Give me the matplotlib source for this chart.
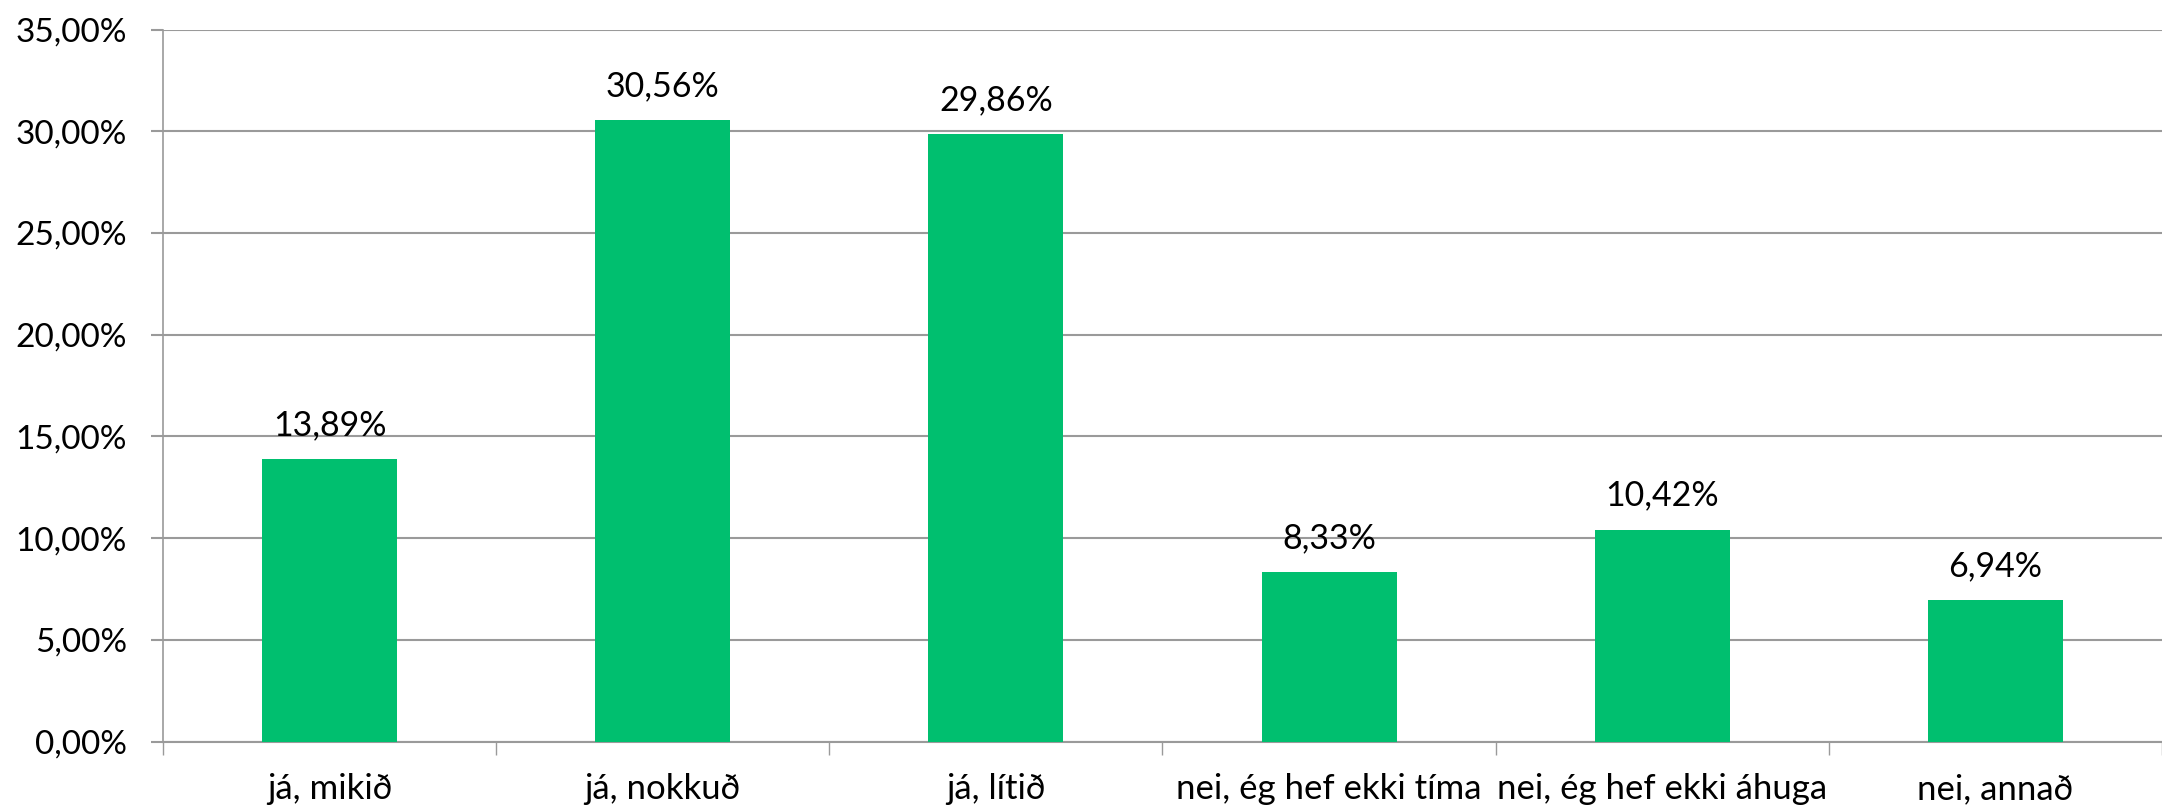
import matplotlib
matplotlib.use("Agg")
import matplotlib.pyplot as plt
from matplotlib.ticker import FuncFormatter, MultipleLocator
import numpy as np

GREEN = "#00BF6F"
GRID = "#9a9a9a"

categories = ["já, mikið", "já, nokkuð", "já, lítið",
              "nei, ég hef ekki tíma", "nei, ég hef ekki áhuga", "nei, annað"]
values = [13.89, 30.56, 29.86, 8.33, 10.42, 6.94]

plt.rcParams.update({
    "font.family": ["Lato", "DejaVu Sans"],
    "font.size": 24,
})


def pct(v):
    return f"{v:.2f}".replace(".", ",") + "%"


fig = plt.figure(figsize=(21.62, 8.08), dpi=100)
ax = fig.add_axes([163 / 2162, 1 - 741.5 / 808, 1 - 163 / 2162, (741.5 - 29.5) / 808])

x = np.arange(len(categories))
bars = ax.bar(x, values, width=0.405, color=GREEN, zorder=3)
for b, v in zip(bars, values):
    ax.annotate(pct(v), (b.get_x() + b.get_width() / 2, v), xytext=(0, 13),
                textcoords="offset points", ha="center", va="bottom",
                fontsize=24.5, color="black")

ax.set_xlim(-0.5, len(categories) - 0.5)
ax.set_ylim(0, 35)
ax.yaxis.set_major_locator(MultipleLocator(5))
ax.yaxis.set_major_formatter(FuncFormatter(lambda v, _: pct(v)))
ax.grid(axis="y", color=GRID, lw=1.5, zorder=0)

ax.set_xticks(x)
ax.set_xticklabels(categories, fontsize=25)
ax.set_xticks(np.arange(len(categories) + 1) - 0.5, minor=True)
ax.tick_params(axis="x", which="major", length=0, pad=23)
ax.tick_params(axis="x", which="minor", length=9, width=1, color=GRID)
ax.tick_params(axis="y", length=9, width=1.5, color=GRID, pad=17)

for s in ("top", "right"):
    ax.spines[s].set_visible(False)
ax.spines["left"].set_color(GRID)
ax.spines["left"].set_linewidth(1.2)
ax.spines["bottom"].set_color(GRID)
ax.spines["bottom"].set_linewidth(1.5)

fig.savefig("out.png", dpi=100)
